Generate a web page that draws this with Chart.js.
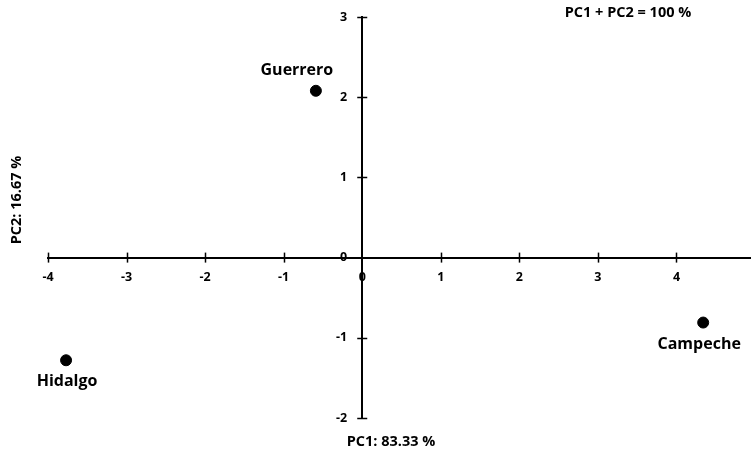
<!DOCTYPE html>
<html><head><meta charset="utf-8">
<script src="https://cdn.jsdelivr.net/npm/chart.js@4/dist/chart.umd.min.js"></script>
<style>html,body{margin:0;padding:0;background:#fff;overflow:hidden;}#wrap{position:relative;width:758px;height:454px;}</style>
</head><body><div id="wrap"><canvas id="c"></canvas></div>
<script>
const states = ["Guerrero", "Hidalgo", "Campeche"];
const pc1 = [-0.59, -3.77, 4.34];
const pc2 = [2.08, -1.28, -0.81];
const xTicks = [-4, -3, -2, -1, 0, 1, 2, 3, 4];
const yTicks = [-2, -1, 0, 1, 2, 3];
const xTitle = "PC1: 83.33 %";
const yTitle = "PC2: 16.67 %";
const note = "PC1 + PC2 = 100 %";

const FONT = "'Open Sans', sans-serif";
const labelOffsets = [[-19, -20], [1, 21], [-4, 22]];

const deco = {
  id: 'deco',
  afterDraw(chart) {
    const ctx = chart.ctx;
    const xs = chart.scales.x, ys = chart.scales.y;
    const x0 = xs.getPixelForValue(0), y0 = ys.getPixelForValue(0);
    ctx.save();
    ctx.strokeStyle = '#000'; ctx.lineWidth = 1.5;
    ctx.fillStyle = '#000';
    ctx.font = "bold 12.5px " + FONT;
    xTicks.forEach(v => {
      const px = xs.getPixelForValue(v);
      if (v !== 0) {
        const rx = Math.round(px) + 0.5;
        ctx.beginPath(); ctx.moveTo(rx, y0 - 5); ctx.lineTo(rx, y0 + 5); ctx.stroke();
      }
      ctx.textAlign = 'center'; ctx.textBaseline = 'middle';
      ctx.fillText(String(v), px, y0 + 20);
    });
    yTicks.forEach(v => {
      const py = ys.getPixelForValue(v);
      if (v !== 0) {
        const ry = Math.round(py) + 0.5;
        ctx.beginPath(); ctx.moveTo(x0 - 5, ry); ctx.lineTo(x0 + 5, ry); ctx.stroke();
      }
      ctx.textAlign = 'right'; ctx.textBaseline = 'middle';
      ctx.fillText(String(v), x0 - 15, py);
    });
    // point labels
    ctx.font = "bold 16px " + FONT;
    ctx.textAlign = 'center'; ctx.textBaseline = 'middle';
    const meta = chart.getDatasetMeta(0);
    meta.data.forEach((pt, i) => {
      ctx.fillText(states[i], pt.x + labelOffsets[i][0], pt.y + labelOffsets[i][1]);
    });
    // titles
    ctx.font = "bold 14.5px " + FONT;
    ctx.fillText(xTitle, 391, 442);
    ctx.fillText(note, 628, 13);
    ctx.save();
    ctx.translate(17, 200); ctx.rotate(-Math.PI / 2);
    ctx.fillText(yTitle, 0, 0);
    ctx.restore();
    ctx.restore();
  }
};

new Chart(document.getElementById('c'), {
  type: 'scatter',
  data: {
    datasets: [{
      data: pc1.map((x, i) => ({ x: x, y: pc2[i] })),
      backgroundColor: '#000', borderColor: '#000',
      pointRadius: 5.5, pointHoverRadius: 5.5
    }]
  },
  options: {
    responsive: true, maintainAspectRatio: false, animation: false,
    layout: { padding: { left: 48, right: 0, top: 17, bottom: 36 } },
    plugins: { legend: { display: false }, tooltip: { enabled: false } },
    scales: {
      x: {
        type: 'linear', min: -4, max: 4.955, position: { y: 0 },
        afterBuildTicks: s => { s.ticks = xTicks.map(v => ({ value: v })); },
        grid: { display: true, drawOnChartArea: false, drawTicks: false, tickLength: 0 },
        border: { color: '#000', width: 2 },
        ticks: { display: false }
      },
      y: {
        type: 'linear', min: -2, max: 3, position: { x: 0 },
        afterBuildTicks: s => { s.ticks = yTicks.map(v => ({ value: v })); },
        grid: { display: true, drawOnChartArea: false, drawTicks: false, tickLength: 0 },
        border: { color: '#000', width: 2 },
        ticks: { display: false }
      }
    }
  },
  plugins: [deco]
});
</script></body></html>
